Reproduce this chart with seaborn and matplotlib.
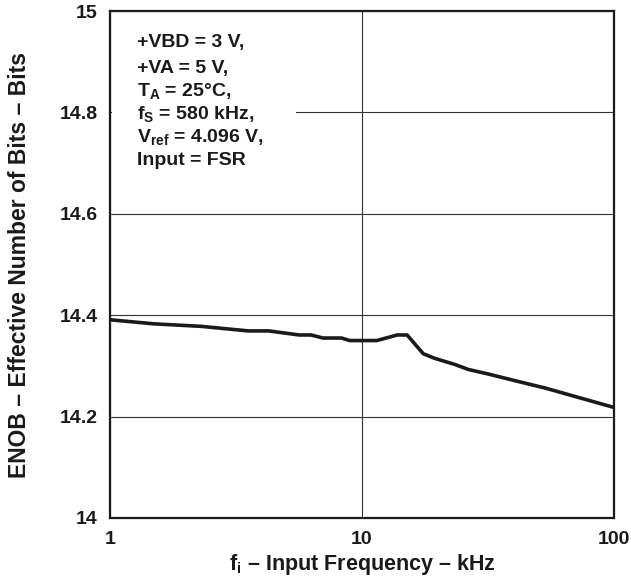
import numpy as np
import pandas as pd
import matplotlib
matplotlib.use("Agg")
import matplotlib.pyplot as plt
import seaborn as sns
from matplotlib.patches import Rectangle

# values
freq_khz = [1.0, 1.49, 2.3, 3.54, 4.27, 5.63, 6.28, 7.0, 8.28, 8.95, 11.45,
            13.8, 15.1, 17.5, 19.4, 23.3, 26.4, 31.7, 41.9, 53.6, 100.0]
enob = [14.391, 14.383, 14.378, 14.369, 14.369, 14.361, 14.361, 14.355, 14.355,
        14.350, 14.350, 14.361, 14.361, 14.324, 14.315, 14.303, 14.293, 14.284,
        14.269, 14.256, 14.218]
y_ticks = [14, 14.2, 14.4, 14.6, 14.8, 15]
y_tick_labels = ["14", "14.2", "14.4", "14.6", "14.8", "15"]
x_ticks = [1, 10, 100]
x_tick_labels = ["1", "10", "100"]
conditions = ["+VBD = 3 V,", "+VA = 5 V,", r"T$_\mathbf{A}$ = 25°C,",
              r"f$_\mathbf{S}$ = 580 kHz,", r"V$_\mathbf{ref}$ = 4.096 V,",
              "Input = FSR"]

df = pd.DataFrame({"freq": freq_khz, "enob": enob})

sns.set_style("white")
plt.rcParams["font.family"] = ["Liberation Sans", "DejaVu Sans"]
plt.rcParams["font.weight"] = "bold"
plt.rcParams["mathtext.fontset"] = "custom"
plt.rcParams["mathtext.rm"] = "Liberation Sans:bold"
plt.rcParams["mathtext.bf"] = "Liberation Sans:bold"
plt.rcParams["mathtext.default"] = "bf"

fig = plt.figure(figsize=(6.31, 5.84), dpi=100)
ax = fig.add_axes([110 / 631, 66 / 584, 504 / 631, 507 / 584])

sns.lineplot(data=df, x="freq", y="enob", ax=ax, color="#1a1a1a", linewidth=2.6)
ax.set_xscale("log")
ax.set_xlim(1, 100)
ax.set_ylim(14, 15)

ax.set_xticks(x_ticks)
ax.set_xticklabels(x_tick_labels)
ax.set_yticks(y_ticks)
ax.set_yticklabels(y_tick_labels)
ax.minorticks_off()
ax.tick_params(length=0, labelsize=14, pad=9, labelcolor="#1a1a1a")
for lab in ax.get_xticklabels() + ax.get_yticklabels():
    lab.set_fontweight("bold")

ax.grid(True, color="#333333", linewidth=0.8)
ax.set_axisbelow(True)
for s in ax.spines.values():
    s.set_color("#1a1a1a")
    s.set_linewidth(1.6)

ax.set_xlabel(r"f$_\mathbf{i}$ – Input Frequency – kHz", fontsize=15.5,
              fontweight="bold", color="#1a1a1a")
ax.set_ylabel("ENOB – Effective Number of Bits – Bits", fontsize=16.5,
              fontweight="bold", color="#1a1a1a")
ax.xaxis.set_label_coords(0.5, (518 - 552) / 507)
ax.yaxis.set_label_coords((31 - 110) / 504, 0.5)

# white box behind the test conditions
ax.add_patch(Rectangle((0.004, 0.64), 0.365, 0.355, transform=ax.transAxes,
                       facecolor="white", edgecolor="none", zorder=1.5))
baselines = [47, 73, 96, 119, 142, 165]
for txt, yb in zip(conditions, baselines):
    ax.text(27 / 504, (518 - yb) / 507, txt, transform=ax.transAxes,
            fontsize=14, fontweight="bold", va="baseline", ha="left",
            color="#1a1a1a", zorder=3)

fig.savefig("out.png", dpi=100)
